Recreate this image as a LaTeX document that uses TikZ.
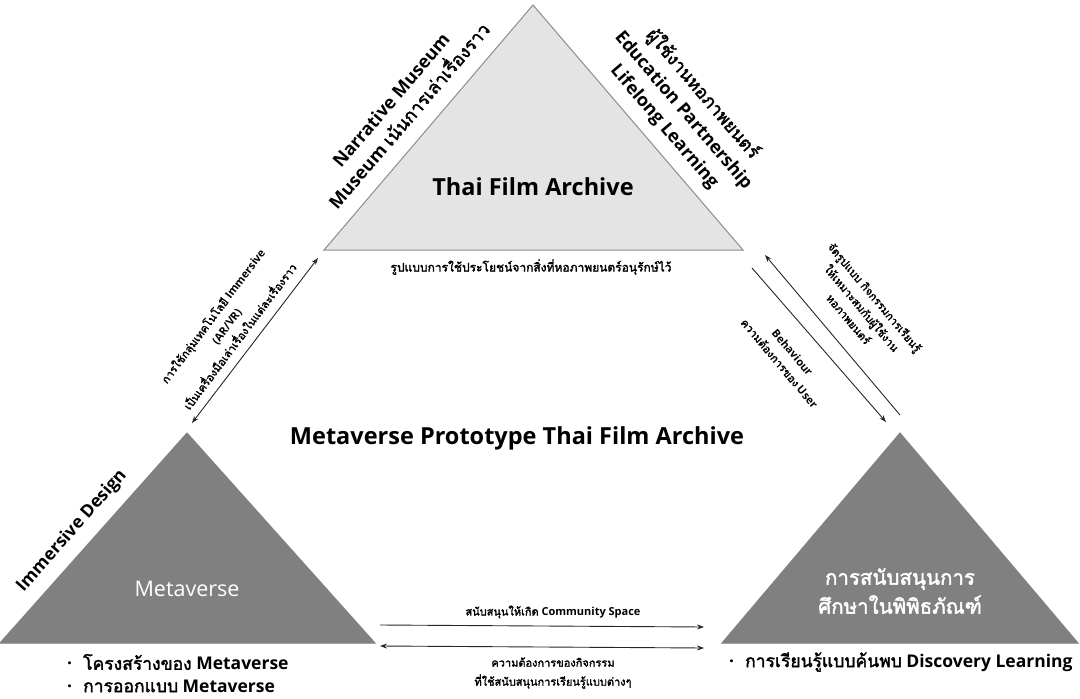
\documentclass[tikz,border=0pt]{standalone}
\usepackage{fontspec}
\setmainfont{Open Sans}
\newfontfamily\thaifont[Script=Thai,BoldFont={Loma},BoldFeatures={FakeBold=2}]{Loma}
\newcommand\tf[1]{{\thaifont #1}}
\usetikzlibrary{arrows.meta}
\definecolor{lightgray}{HTML}{E4E4E4}
\definecolor{edgegray}{HTML}{8C8C8C}
\definecolor{darkgray}{HTML}{808080}
\tikzset{
  toptri/.style={fill=lightgray,draw=edgegray,line width=1pt},
  bottri/.style={fill=darkgray,draw=darkgray,line width=1pt},
  conn/.style={line width=0.9pt,draw=black!85,-{Stealth[length=7pt,width=5pt]}},
  dconn/.style={line width=0.9pt,draw=black!85,{Stealth[length=7pt,width=5pt]}-{Stealth[length=7pt,width=5pt]}},
  lbl/.style={font=\bfseries\fontsize{11}{17}\selectfont,align=center,inner sep=0pt},
  edgelbl/.style={font=\bfseries\fontsize{18}{24}\selectfont,align=center,inner sep=0pt},
  bullet/.style={font=\bfseries\fontsize{17.5}{20}\selectfont,anchor=west,inner sep=0pt}
}
\begin{document}
\begin{tikzpicture}[x=1pt,y=1pt]
\useasboundingbox (0,0) rectangle (1080,-699);
% triangles
\draw[toptri] (533,-5) -- (324,-250) -- (743,-250) -- cycle;
\draw[bottri] (187,-433) -- (0,-643) -- (375,-643) -- cycle;
\draw[bottri] (900,-433) -- (722,-643) -- (1078,-643) -- cycle;
% triangle titles
\node[font=\bfseries\fontsize{23.5}{28}\selectfont] (tfa) at (533,-187) {Thai Film Archive};
\node[font=\fontsize{21.5}{26}\selectfont,text=white] (meta) at (187,-589) {Metaverse};
\node[font=\bfseries\fontsize{20.5}{29}\selectfont,text=white,align=center] (edu) at (900,-591) {\tf{การสนับสนุนการ}\\\tf{ศึกษาในพิพิธภัณฑ์}};
% center title
\node[font=\bfseries\fontsize{23.5}{28}\selectfont] (title) at (517,-438) {Metaverse Prototype Thai Film Archive};
% text below top triangle
\node[lbl,font=\bfseries\fontsize{12}{14}\selectfont] (use) at (531,-267) {\tf{รูปแบบการใช้ประโยชน์จากสิ่งที่หอภาพยนตร์อนุรักษ์ไว้}};
% edge labels on top triangle
\node[edgelbl,rotate=49.5] (narr) at (400,-108) {Narrative Museum\\Museum \tf{เน้นการเล่าเรื่องราว}};
\node[edgelbl,font=\bfseries\fontsize{18}{25}\selectfont,rotate=-49.5] (partner) at (684,-110) {\tf{ผู้ใช้งานหอภาพยนตร์}\\Education Partnership\\Lifelong Learning};
% edge label left triangle
\node[edgelbl,font=\bfseries\fontsize{17.5}{20}\selectfont,rotate=48.5] (imm) at (72,-531) {Immersive Design};
% left arrow
\coordinate (la1) at (192,-423);
\coordinate (la2) at (318,-258);
\draw[dconn] (la1) -- (la2);
\node[lbl,rotate=53] (immtxt) at (226,-326) {\tf{การใช้กลุ่มเทคโนโลยี} Immersive\\(AR/VR)\\\tf{เป็นเครื่องมือเล่าเรื่องในแต่ละเรื่องราว}};
% right arrows
\coordinate (ra1) at (900,-415);
\coordinate (ra2) at (765,-255);
\coordinate (rb1) at (752,-268);
\coordinate (rb2) at (886,-422);
\draw[conn] (ra1) -- (ra2);
\draw[conn] (rb1) -- (rb2);
\node[lbl,rotate=-50] (plan) at (862,-308) {\tf{จัดรูปแบบ กิจกรรมการเรียนรู้}\\\tf{ให้เหมาะสมกับผู้ใช้งาน}\\\tf{หอภาพยนตร์}};
\node[lbl,rotate=-50] (beh) at (786,-358) {Behaviour\\\tf{ความต้องการของ} User};
% bottom arrows
\coordinate (ba1) at (380,-625);
\coordinate (ba2) at (704,-627);
\coordinate (bb1) at (380,-646);
\coordinate (bb2) at (704,-648);
\draw[conn] (ba1) -- (ba2);
\draw[dconn] (bb1) -- (bb2);
\node[lbl] (comm) at (553,-612) {\tf{สนับสนุนให้เกิด} Community Space};
\node[lbl,font=\bfseries\fontsize{11}{19}\selectfont] (need) at (553,-673) {\tf{ความต้องการของกิจกรรม}\\\tf{ที่ใช้สนับสนุนการเรียนรู้แบบต่างๆ}};
% bullets
\node[bullet] (b1) at (67,-662) {\textperiodcentered\hspace{11pt}\tf{โครงสร้างของ} Metaverse};
\node[bullet] (b2) at (67,-686) {\textperiodcentered\hspace{11pt}\tf{การออกแบบ} Metaverse};
\node[bullet] (b3) at (729,-662) {\textperiodcentered\hspace{11pt}\tf{การเรียนรู้แบบค้นพบ} Discovery Learning};
\end{tikzpicture}
\end{document}
